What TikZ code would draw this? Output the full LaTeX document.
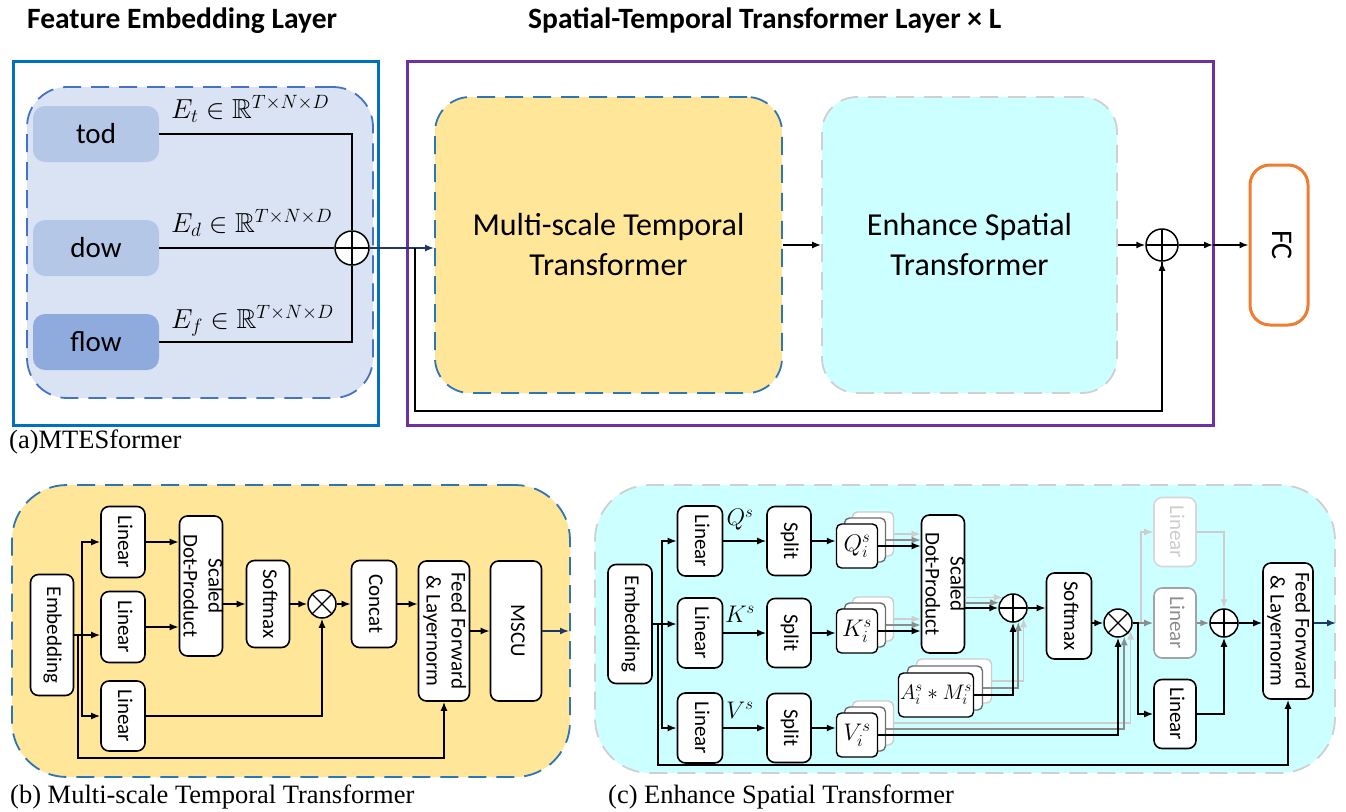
\RequirePackage{fix-cm}
\documentclass[tikz,border=0pt]{standalone}
\usepackage{fontspec}
\usepackage{amssymb}
\usepackage{graphicx}
\setmainfont{Liberation Serif}
\newfontfamily\carl{Carlito}
\usetikzlibrary{arrows.meta,calc}

\definecolor{frameblue}{HTML}{0070C0}
\definecolor{framepurple}{HTML}{7030A0}
\definecolor{dashblue}{HTML}{4472C4}
\definecolor{dashblueb}{HTML}{2E75B6}
\definecolor{embfill}{HTML}{DAE3F3}
\definecolor{todfill}{HTML}{B4C7E7}
\definecolor{flowfill}{HTML}{8FAADC}
\definecolor{yellowfill}{HTML}{FFE699}
\definecolor{cyanfill}{HTML}{CCFFFF}
\definecolor{fcorange}{HTML}{ED7D31}
\definecolor{navy}{HTML}{1F3864}
\definecolor{dashgray}{HTML}{D0D0D0}
\definecolor{midgray}{HTML}{8C8C8C}
\definecolor{litegray}{HTML}{CDCDCD}
\definecolor{stackgray}{HTML}{6E6E6E}

% rotated (top-to-bottom) text that does not widen its box
\newcommand{\vtext}[1]{\makebox[0pt]{\rotatebox{-90}{\begin{tabular}{@{}c@{}}#1\end{tabular}}}}

\begin{document}
\begin{tikzpicture}[x=1pt,y=-1pt,
  wire/.style={line width=1.6pt},
  arr/.style={wire,-{Latex[length=9pt,width=7pt]}},
  navyarr/.style={arr,draw=navy,-{Latex[length=9pt,width=7pt,fill=navy]}},
  grayarr/.style={arr,draw=midgray},
  litearr/.style={arr,draw=litegray},
  wh/.style 2 args={minimum width=#1pt,minimum height=#2pt},
  blk/.style={draw=black,line width=1.6pt,rounded corners=8pt,fill=white,inner sep=0pt,
    font=\carl\fontsize{21}{25}\selectfont},
  stk/.style={draw=black,line width=1.4pt,rounded corners=5pt,fill=white,inner sep=0pt,
    font=\fontsize{24}{28}\selectfont},
  feat/.style={rounded corners=12pt,inner sep=0pt,wh={126}{56},
    font=\carl\fontsize{29}{34}\selectfont},
  opl/.style={circle,draw,line width=1.5pt,fill=white,minimum size=28pt,inner sep=0pt,
    path picture={\draw[line width=1.2pt]
      (path picture bounding box.north) -- (path picture bounding box.south)
      (path picture bounding box.west) -- (path picture bounding box.east);}},
  otm/.style={circle,draw,line width=1.5pt,fill=white,minimum size=28pt,inner sep=0pt,
    path picture={\draw[line width=1.2pt]
      (path picture bounding box.north west) -- (path picture bounding box.south east)
      (path picture bounding box.north east) -- (path picture bounding box.south west);}},
  bigdash/.style={dash pattern=on 18pt off 10pt,line width=1.8pt},
  capt/.style={inner sep=0pt,anchor=base west,font=\fontsize{26.5}{30}\selectfont},
  ttl/.style={inner sep=0pt,anchor=base west,font=\carl\bfseries\fontsize{29.5}{34}\selectfont},
  mth/.style={inner sep=0pt,anchor=base west,font=\fontsize{27.5}{32}\selectfont},
  qlab/.style={inner sep=0pt,font=\fontsize{24}{28}\selectfont}
]
\useasboundingbox (0,0) rectangle (1346,811);
\fill[white] (0,0) rectangle (1346,811);

% ---------------- titles ----------------
\node[ttl] (ttlA) at (27,28) {Feature Embedding Layer};
\node[ttl] (ttlB) at (528,28) {Spatial-Temporal Transformer Layer × L};

% ---------------- (a) feature embedding ----------------
\node[draw=frameblue,line width=3pt,wh={365}{364},inner sep=0pt] (frameA) at (195.5,243) {};
\node[draw=dashblue,fill=embfill,bigdash,rounded corners=40pt,wh={346}{311},inner sep=0pt]
  (embbox) at (200,242.5) {};
\node[feat,fill=todfill] (tod) at (96,134) {tod};
\node[feat,fill=todfill] (dow) at (96,248) {dow};
\node[feat,fill=flowfill] (flow) at (96,342) {flow};
\node[opl,minimum size=34pt] (sumA) at (352,248) {};
\draw[wire] (tod.east) -| (sumA.north);
\draw[wire] (dow.east) -- (sumA.west);
\draw[wire] (flow.east) -| (sumA.south);
\node[mth] (et) at (171,118) {$E_t\in\mathbb{R}^{T\times N\times D}$};
\node[mth] (ed) at (171,232) {$E_d\in\mathbb{R}^{T\times N\times D}$};
\node[mth] (ef) at (171,328) {$E_f\in\mathbb{R}^{T\times N\times D}$};
\node[capt] (capA) at (9,448) {(a)MTESformer};

% ---------------- spatial-temporal layer ----------------
\node[draw=framepurple,line width=3pt,wh={806}{364},inner sep=0pt] (frameB) at (810,243) {};
\node[draw=dashblueb,fill=yellowfill,bigdash,rounded corners=35pt,wh={347}{296},inner sep=0pt,
  align=center,font=\carl\fontsize{32}{40}\selectfont] (mst) at (608.5,245)
  {Multi-scale Temporal\\Transformer};
\node[draw=dashgray,fill=cyanfill,bigdash,rounded corners=35pt,wh={295}{296},inner sep=0pt,
  align=center,font=\carl\fontsize{32}{40}\selectfont] (est) at (969.5,245)
  {Enhance Spatial\\Transformer};
\node[opl,minimum size=32pt] (sumB) at (1162,245) {};
\node[draw=fcorange,line width=3pt,rounded corners=20pt,fill=white,wh={58}{160},inner sep=0pt,
  font=\carl\fontsize{30}{34}\selectfont] (fc) at (1279,245) {\vtext{FC}};

\coordinate (br) at (415,248);
\coordinate (lowB) at (0,411);
\coordinate (edgeB) at (1213,245);
\draw[navyarr] (sumA.east) -- (sumA -| mst.west);
\draw[wire] (br) -- (br |- lowB) -| (sumB.south);
\draw[arr] (sumB.south) ++(0,6) -- (sumB.south);
\draw[arr] (mst.east) -- (est.west);
\draw[arr] (est.east) -- (sumB.west);
\draw[arr] (sumB.east) -- (edgeB);
\draw[arr] (edgeB) -- (fc.west);

% ---------------- (b) multi-scale temporal transformer ----------------
\node[draw=dashblueb,fill=yellowfill,bigdash,rounded corners=55pt,wh={558}{292},inner sep=0pt]
  (bbox) at (291,631) {};
\node[blk,wh={43}{121}] (embB) at (52,635) {\vtext{Embedding}};
\node[blk,wh={44}{71}] (linB1) at (123,542) {\vtext{Linear}};
\node[blk,wh={44}{71}] (linB2) at (123,627) {\vtext{Linear}};
\node[blk,wh={44}{70}] (linB3) at (123,716) {\vtext{Linear}};
\node[blk,wh={43}{140}] (sdpB) at (201,586) {\vtext{Scaled\\Dot-Product}};
\node[blk,wh={43}{87}] (smB) at (268,604) {\vtext{Softmax}};
\node[otm] (otB) at (322,604) {};
\node[blk,wh={45}{87}] (catB) at (374,604) {\vtext{Concat}};
\node[blk,wh={51}{140}] (ffB) at (444,631) {\vtext{Feed Forward\\\& Layernorm}};
\node[blk,wh={51}{140}] (mscu) at (516,631) {\vtext{MSCU}};

\coordinate (jb) at (82,635);
\coordinate (jbr) at (78,635);
\coordinate (lowb) at (0,758);
\coordinate (outB) at (569,631);
\draw[wire] (embB.east) -- (jb);
\draw[arr] (jb) |- (linB1.west);
\draw[arr] (jb) -- (jb -| linB2.west);
\draw[arr] (jb) |- (linB3.west);
\draw[arr] (jbr) -- (jbr |- lowb) -| (ffB.south);
\draw[arr] (linB1.east) -- (linB1.east -| sdpB.west);
\draw[arr] (linB2.east) -- (linB2.east -| sdpB.west);
\draw[arr] (sdpB.east |- smB) -- (smB.west);
\draw[arr] (smB.east) -- (otB.west);
\draw[arr] (linB3.east) -| (otB.south);
\draw[arr] (otB.east) -- (catB.west);
\draw[arr] (catB.east) -- (catB.east -| ffB.west);
\draw[arr] (ffB.east) -- (mscu.west);
\draw[navyarr] (mscu.east) -- (outB);
\node[capt] (capB) at (10,803) {(b) Multi-scale Temporal Transformer};

% ---------------- (c) enhance spatial transformer ----------------
\node[draw=dashgray,fill=cyanfill,bigdash,rounded corners=55pt,wh={740}{288},inner sep=0pt]
  (cbox) at (965,629) {};
\node[blk,wh={44}{119}] (embC) at (630,624) {\vtext{Embedding}};
\node[blk,wh={45}{70}] (linQ) at (700,541) {\vtext{Linear}};
\node[blk,wh={45}{70}] (linK) at (700,633) {\vtext{Linear}};
\node[blk,wh={45}{70}] (linV) at (700,728) {\vtext{Linear}};
\node[blk,wh={44}{69}] (splQ) at (789,541) {\vtext{Split}};
\node[blk,wh={44}{69}] (splK) at (789,633) {\vtext{Split}};
\node[blk,wh={44}{69}] (splV) at (789,728) {\vtext{Split}};
\node[qlab] (lq) at (740,520) {$Q^s$};
\node[qlab] (lk) at (740,614) {$K^s$};
\node[qlab] (lv) at (740,710) {$V^s$};

% stacked per-head boxes
\node[stk,draw=litegray,wh={41}{44}] (qB) at (873,534) {};
\node[stk,draw=stackgray,wh={41}{44}] (qM) at (865,540) {};
\node[stk,wh={41}{44}] (qF) at (857,546) {$Q_i^s$};
\node[stk,draw=litegray,wh={41}{44}] (kB) at (873,619) {};
\node[stk,draw=stackgray,wh={41}{44}] (kM) at (865,625) {};
\node[stk,wh={41}{44}] (kF) at (857,631) {$K_i^s$};
\node[stk,draw=litegray,wh={41}{44}] (vB) at (873,723) {};
\node[stk,draw=stackgray,wh={41}{44}] (vM) at (865,729) {};
\node[stk,wh={41}{44}] (vF) at (857,735) {$V_i^s$};
\node[stk,draw=litegray,wh={75}{44}] (amB) at (954,681) {};
\node[stk,draw=stackgray,wh={75}{44}] (amM) at (945,688) {};
\node[stk,wh={75}{44},font=\fontsize{21}{25}\selectfont] (amF) at (936,695) {$A_i^s * M_i^s$};

\node[blk,wh={43}{138}] (sdpC) at (943,584) {\vtext{Scaled\\Dot-Product}};
\node[opl] (sum1) at (1013,608) {};
\node[blk,wh={45}{86}] (smC) at (1069,616) {\vtext{Softmax}};
\node[otm] (otC) at (1118,623) {};
\node[blk,draw=litegray!80,text=litegray,wh={42}{69}] (linC1) at (1175,532) {\vtext{Linear}};
\node[blk,draw=midgray!80,text=midgray,wh={42}{70}] (linC2) at (1175,623) {\vtext{Linear}};
\node[blk,wh={42}{69}] (linC3) at (1175,714) {\vtext{Linear}};
\node[opl] (sum2) at (1224,623) {};
\node[blk,wh={50}{136}] (ffC) at (1288,631) {\vtext{Feed Forward\\\& Layernorm}};

\coordinate (jc) at (662,624);
\coordinate (jcr) at (658,624);
\coordinate (lowc) at (0,765);
\coordinate (jo) at (1138,623);
\coordinate (jo2) at (1141,623);
\coordinate (outC) at (1336,623);

\draw[wire] (embC.east) -- (jc);
\draw[arr] (jc) |- (linQ.west);
\draw[arr] (jc) -- (jc -| linK.west);
\draw[arr] (jc) |- (linV.west);
\draw[arr] (jcr) -- (jcr |- lowc) -| (ffC.south);
\draw[arr] (linQ.east) -- (splQ.west);
\draw[arr] (linK.east) -- (splK.west);
\draw[arr] (linV.east) -- (splV.west);
\draw[arr] (splQ.east) -- (splQ.east -| qF.west);
\draw[arr] (splK.east) -- (splK.east -| kF.west);
\draw[arr] (splV.east) -- (splV.east -| vF.west);

% heads into the scaled dot-product
\draw[litearr] (qB.east) -- (qB.east -| sdpC.west);
\draw[grayarr] (qM.east) -- (qM.east -| sdpC.west);
\draw[arr] (qF.east) -- (qF.east -| sdpC.west);
\draw[litearr] (kB.east) -- (kB.east -| sdpC.west);
\draw[grayarr] (kM.east) -- (kM.east -| sdpC.west);
\draw[arr] (kF.east) -- (kF.east -| sdpC.west);

% scores plus spatial prior
\draw[litearr] (sdpC.east |- sum1.134) -- (sum1.134);
\draw[grayarr] (sdpC.east |- sum1.159) -- (sum1.159);
\draw[arr] (sdpC.east |- sum1) -- (sum1.west);
\draw[litearr] (amB.east) -| (sum1.-44);
\draw[grayarr] (amM.east) -| (sum1.-69);
\draw[arr] (amF.east) -| (sum1.south);
\draw[arr] (sum1.east) -- (sum1.east -| smC.west);
\draw[arr] (smC.east |- otC) -- (otC.west);

% values into the product
\draw[litearr] (vB.east) -| (otC.-31);
\draw[grayarr] (vM.east) -| (otC.-65);
\draw[arr] (vF.east) -| (otC.south);

% output projections
\draw[wire,draw=litegray] (otC.east) -- (jo2);
\draw[litearr] (jo2) |- (linC1.west);
\draw[grayarr] (jo) -- (linC2.west);
\draw[arr] (otC.east) -- (jo) |- (linC3.west);
\draw[litearr] (linC1.east) -| (sum2.north);
\draw[grayarr] (linC2.east) -- (sum2.west);
\draw[arr] (linC3.east) -| (sum2.south);
\draw[arr] (sum2.east) -- (sum2.east -| ffC.west);
\draw[navyarr] (ffC.east |- outC) -- (outC);
\node[capt] (capC) at (608,803) {(c) Enhance Spatial Transformer};
\end{tikzpicture}
\end{document}
